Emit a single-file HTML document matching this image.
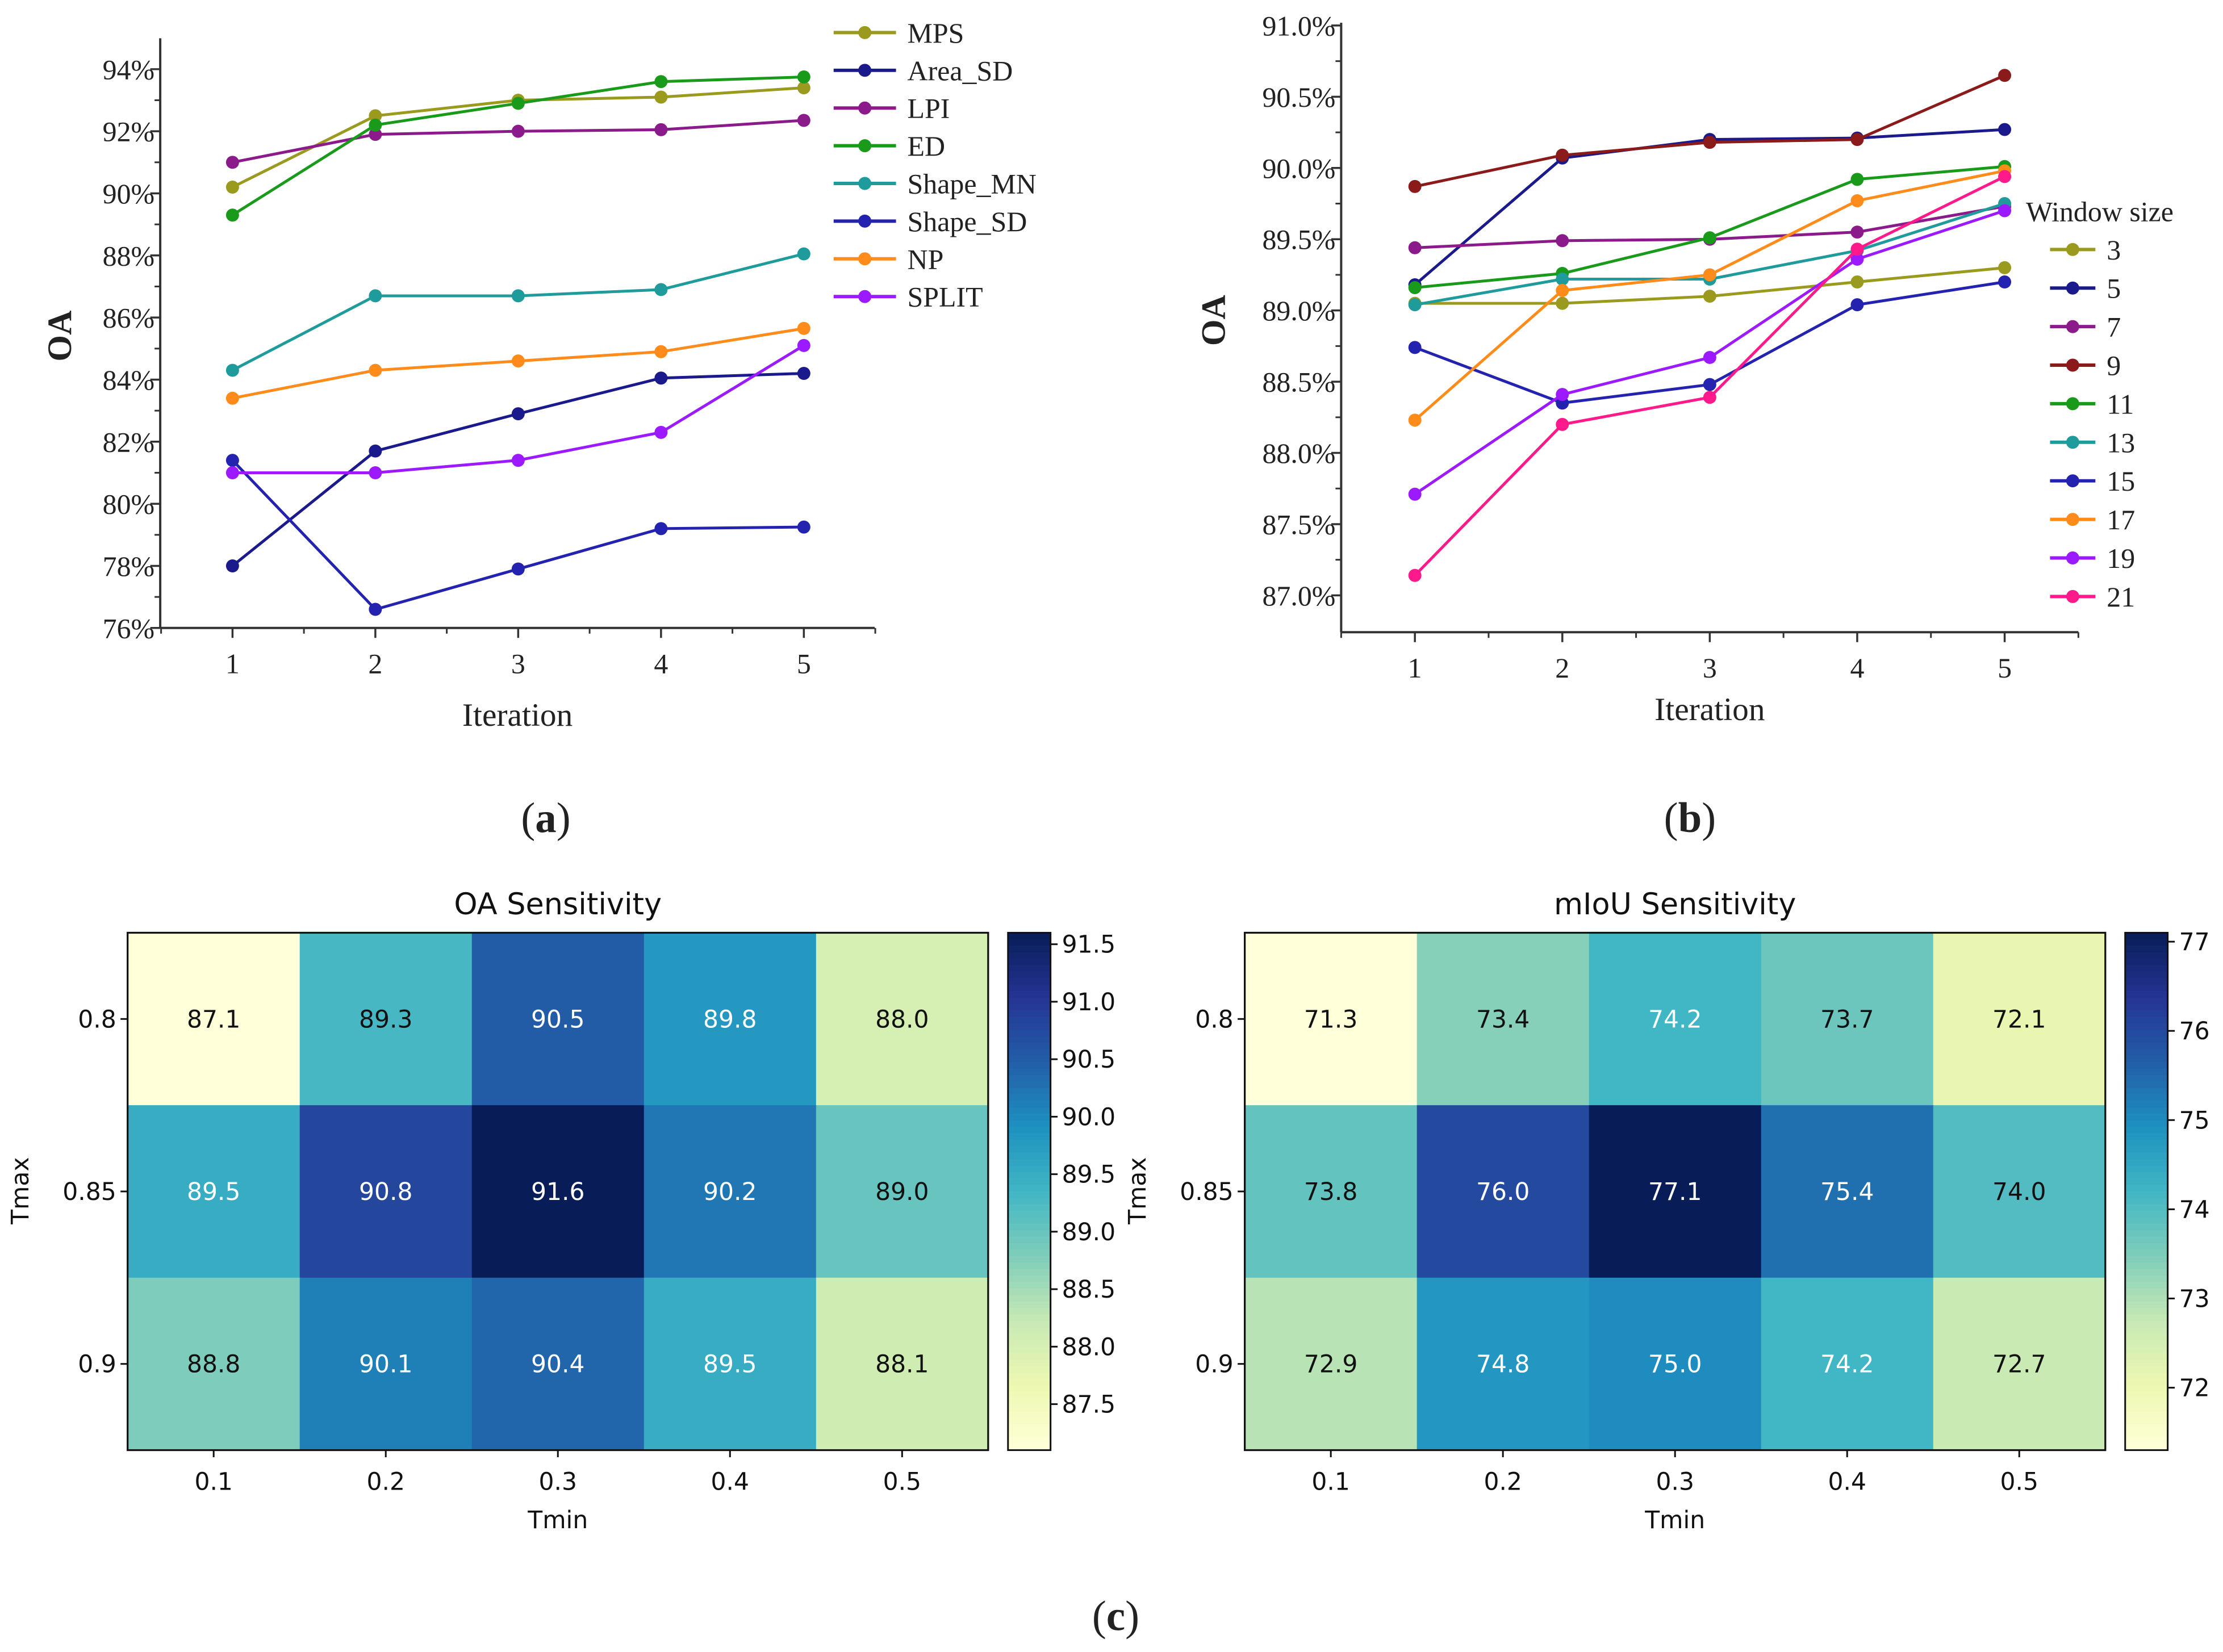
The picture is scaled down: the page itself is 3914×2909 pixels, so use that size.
<!DOCTYPE html>
<html><head><meta charset="utf-8"><style>
html,body{margin:0;padding:0;background:#fff;}
svg{display:block;}
.serif{font-family:"Liberation Serif",serif;fill:#222;}
.sans{font-family:"DejaVu Sans","Liberation Sans",sans-serif;fill:#111;}
</style></head><body>
<svg id="fig" xmlns="http://www.w3.org/2000/svg" width="3914" height="2909" viewBox="0 0 1568 1165.4">
<rect x="0" y="0" width="1568" height="1165.4" fill="#fff"/>
<g id="chartA"></g>
<g id="chartB"></g>
<g id="heatA"></g>
<g id="heatB"></g>
<text class="serif" x="385" y="587" font-size="30" text-anchor="middle">(<tspan font-weight="bold">a</tspan>)</text>
<text class="serif" x="1192" y="587" font-size="30" text-anchor="middle">(<tspan font-weight="bold">b</tspan>)</text>
<text class="serif" x="787" y="1150" font-size="30" text-anchor="middle">(<tspan font-weight="bold">c</tspan>)</text>
</svg>
<script>
// ---------- Chart A data ----------
const aIterations = [1,2,3,4,5];
const aNames = ["MPS","Area_SD","LPI","ED","Shape_MN","Shape_SD","NP","SPLIT"];
const aColors = ["#9a9a1e","#1a1a8c","#8b1a8b","#1a9a1a","#1f9b9b","#2323b0","#ff8c1a","#9b1aff"];
const aMPS = [90.2,92.5,93.0,93.1,93.4];
const aAreaSD = [78.0,81.7,82.9,84.05,84.2];
const aLPI = [91.0,91.9,92.0,92.05,92.35];
const aED = [89.3,92.2,92.9,93.6,93.75];
const aShapeMN = [84.3,86.7,86.7,86.9,88.05];
const aShapeSD = [81.4,76.6,77.9,79.2,79.25];
const aNP = [83.4,84.3,84.6,84.9,85.65];
const aSPLIT = [81.0,81.0,81.4,82.3,85.1];
const aYTicks = [76,78,80,82,84,86,88,90,92,94];
// ---------- Chart B data ----------
const bNames = ["3","5","7","9","11","13","15","17","19","21"];
const bColors = ["#9a9a1e","#1a1a8c","#8b1a8b","#8b1a1a","#1a9a1a","#1f9b9b","#2323b0","#ff8c1a","#9b1aff","#ff1a8c"];
const b3 = [89.05,89.05,89.1,89.2,89.3];
const b5 = [89.18,90.07,90.2,90.21,90.27];
const b7 = [89.44,89.49,89.5,89.55,89.73];
const b9 = [89.87,90.09,90.18,90.2,90.65];
const b11 = [89.16,89.26,89.51,89.92,90.01];
const b13 = [89.04,89.22,89.22,89.42,89.75];
const b15 = [88.74,88.35,88.48,89.04,89.2];
const b17 = [88.23,89.14,89.25,89.77,89.98];
const b19 = [87.71,88.41,88.67,89.36,89.7];
const b21 = [87.14,88.2,88.39,89.43,89.94];
const bYTicks = [87.0,87.5,88.0,88.5,89.0,89.5,90.0,90.5,91.0];
// ---------- Heatmap data ----------
const hTmin = ["0.1","0.2","0.3","0.4","0.5"];
const hTmax = ["0.8","0.85","0.9"];
const hOA = [[87.1,89.3,90.5,89.8,88.0],[89.5,90.8,91.6,90.2,89.0],[88.8,90.1,90.4,89.5,88.1]];
const hMIoU = [[71.3,73.4,74.2,73.7,72.1],[73.8,76.0,77.1,75.4,74.0],[72.9,74.8,75.0,74.2,72.7]];
const hOATicks = [87.5,88.0,88.5,89.0,89.5,90.0,90.5,91.0,91.5];
const hMIoUTicks = [72,73,74,75,76,77];

const NS="http://www.w3.org/2000/svg";
function mk(parent,tag,attrs,text){const e=document.createElementNS(NS,tag);for(const k in attrs)e.setAttribute(k,attrs[k]);if(text!==undefined)e.textContent=text;parent.appendChild(e);return e;}

function lineChart(g,cfg){
  const xs=v=>cfg.x0+(v-1)*cfg.dx;
  const ys=v=>cfg.y0-(v-cfg.ymin)*cfg.py;
  // axes
  let e=mk(g,'line',{x1:cfg.axL,y1:cfg.axB,x2:cfg.axL,y2:cfg.axT,stroke:'#333','stroke-width':1.6});
  
  e=mk(g,'line',{x1:cfg.axL,y1:cfg.axB,x2:cfg.axR,y2:cfg.axB,stroke:'#333','stroke-width':1.6});
  
  cfg.yticks.forEach((t,i)=>{
    const y=ys(t);
    mk(g,'line',{x1:cfg.axL-7,y1:y,x2:cfg.axL,y2:y,stroke:'#333','stroke-width':1.4});
    const lbl=mk(g,'text',{x:cfg.axL-4,y:y+7,'font-size':20,'text-anchor':'end',class:'serif'},cfg.fmt(t));
    
    if(i<cfg.yticks.length-1){const ym=ys((t+cfg.yticks[i+1])/2);mk(g,'line',{x1:cfg.axL-4,y1:ym,x2:cfg.axL,y2:ym,stroke:'#333','stroke-width':1.2});}
  });
  const ym=ys(cfg.yticks[cfg.yticks.length-1]+(cfg.yticks[1]-cfg.yticks[0])/2);
  if(ym>cfg.axT) mk(g,'line',{x1:cfg.axL-4,y1:ym,x2:cfg.axL,y2:ym,stroke:'#333','stroke-width':1.2});
  aIterations.forEach(v=>{
    const x=xs(v);
    mk(g,'line',{x1:x,y1:cfg.axB,x2:x,y2:cfg.axB+7,stroke:'#333','stroke-width':1.4});
    mk(g,'line',{x1:x+cfg.dx/2,y1:cfg.axB,x2:x+cfg.dx/2,y2:cfg.axB+4,stroke:'#333','stroke-width':1.2});
    const lbl=mk(g,'text',{x:x,y:cfg.axB+32,'font-size':20,'text-anchor':'middle',class:'serif'},String(v));
    
  });
  mk(g,'line',{x1:xs(1)-cfg.dx/2,y1:cfg.axB,x2:xs(1)-cfg.dx/2,y2:cfg.axB+4,stroke:'#333','stroke-width':1.2});
  e=mk(g,'text',{x:cfg.xtX,y:cfg.xtY,'font-size':23,'text-anchor':'middle',class:'serif'},'Iteration');
  
  e=mk(g,'text',{x:cfg.ytX,y:cfg.ytY,'font-size':24,'font-weight':'bold','text-anchor':'middle',class:'serif',transform:`rotate(-90 ${cfg.ytX} ${cfg.ytY})`},'OA');
  
  if(cfg.legTitle){e=mk(g,'text',{x:cfg.legTitle[0],y:cfg.legTitle[1],'font-size':20,class:'serif'},cfg.legTitleText);}
  cfg.series.forEach((s,i)=>{
    const sg=mk(g,'g',{});
    
    
    const pts=s.map((v,j)=>xs(aIterations[j]).toFixed(1)+','+ys(v).toFixed(1)).join(' ');
    mk(sg,'polyline',{points:pts,fill:'none',stroke:cfg.colors[i],'stroke-width':2});
    s.forEach((v,j)=>{const c=mk(sg,'circle',{cx:xs(aIterations[j]),cy:ys(v),r:4.6,fill:cfg.colors[i]});
      });
    const ly=cfg.legY0+i*cfg.legDy;
    const lg=mk(g,'g',{});
    
    mk(lg,'line',{x1:cfg.legX,y1:ly,x2:cfg.legX+cfg.legW,y2:ly,stroke:cfg.colors[i],'stroke-width':2.4});
    mk(lg,'circle',{cx:cfg.legX+cfg.legW/2,cy:ly,r:4.6,fill:cfg.colors[i]});
    mk(lg,'text',{x:cfg.legX+cfg.legW+8,y:ly+7,'font-size':20,class:'serif'},cfg.names[i]);
  });
}
lineChart(document.getElementById('chartA'),{x0:164,dx:100.75,y0:443,ymin:76,py:21.9,axL:113,axR:617,axT:27,axB:443,
  yticks:aYTicks,fmt:t=>t+'%',xtX:365,xtY:512,ytX:50,ytY:237,
  series:[aMPS,aAreaSD,aLPI,aED,aShapeMN,aShapeSD,aNP,aSPLIT],names:aNames,colors:aColors,legX:588,legW:44,legY0:23,legDy:26.6});
lineChart(document.getElementById('chartB'),{x0:998,dx:104,y0:420,ymin:87,py:100.5,axL:946,axR:1466,axT:16,axB:446,
  yticks:bYTicks,fmt:t=>t.toFixed(1)+'%',xtX:1206,xtY:508,ytX:864,ytY:226,
  series:[b3,b5,b7,b9,b11,b13,b15,b17,b19,b21],names:bNames,colors:bColors,legX:1446,legW:32,legY0:176,legDy:27.2,
  legTitle:[1429,156],legTitleText:'Window size'});

// ---- YlGnBu colormap ----
const cmap=["#ffffd9","#edf8b1","#c7e9b4","#7fcdbb","#41b6c4","#1d91c0","#225ea8","#253494","#081d58"];
function hex(h){return [1,3,5].map(i=>parseInt(h.substr(i,2),16));}
function color(t){t=Math.max(0,Math.min(1,t));const p=t*(cmap.length-1);const i=Math.min(Math.floor(p),cmap.length-2);const f=p-i;
  const a=hex(cmap[i]),b=hex(cmap[i+1]);return 'rgb('+a.map((v,k)=>Math.round(v+(b[k]-v)*f)).join(',')+')';}

function heat(g,cfg){
  const L=cfg.L,T=658,W=607,H=365;const cw=W/5,ch=H/3;
  const vmin=Math.min(...cfg.data.flat()),vmax=Math.max(...cfg.data.flat());
  const norm=v=>(v-vmin)/(vmax-vmin);
  cfg.data.forEach((row,r)=>row.forEach((v,c)=>{
    const cell=mk(g,'rect',{x:L+c*cw,y:T+r*ch,width:cw+0.5,height:ch+0.5,fill:color(norm(v))});
    
    const t=mk(g,'text',{x:L+c*cw+cw/2,y:T+r*ch+ch/2+6,'font-size':17,'text-anchor':'middle',class:'sans',style:'fill:'+(norm(v)>0.495?'#fff':'#111')},v.toFixed(1));
    
  }));
  mk(g,'rect',{x:L,y:T,width:W,height:H,fill:'none',stroke:'#111','stroke-width':1.3});
  let e=mk(g,'text',{x:L+W/2,y:645,'font-size':21,'text-anchor':'middle',class:'sans'},cfg.title);
  
  hTmax.forEach((lab,r)=>{const y=T+r*ch+ch/2;mk(g,'line',{x1:L-5,y1:y,x2:L,y2:y,stroke:'#111','stroke-width':1.2});
    const t=mk(g,'text',{x:L-8,y:y+6,'font-size':17,'text-anchor':'end',class:'sans'},lab);});
  hTmin.forEach((lab,c)=>{const x=L+c*cw+cw/2;mk(g,'line',{x1:x,y1:T+H,x2:x,y2:T+H+5,stroke:'#111','stroke-width':1.2});
    const t=mk(g,'text',{x:x,y:T+H+28,'font-size':17,'text-anchor':'middle',class:'sans'},lab);});
  e=mk(g,'text',{x:L+W/2,y:1078,'font-size':17,'text-anchor':'middle',class:'sans'},'Tmin');
  
  const yx=cfg.L-70;
  e=mk(g,'text',{x:yx,y:840,'font-size':17,'text-anchor':'middle',class:'sans',transform:`rotate(-90 ${yx} 840)`},'Tmax');
  
  // colorbar
  const cx=L+W+14,cwid=30;
  const cb=mk(g,'g',{});
  const N=80;for(let i=0;i<N;i++){mk(cb,'rect',{x:cx,y:T+i*H/N,width:cwid,height:H/N+0.6,fill:color(1-(i+0.5)/N)});}
  mk(cb,'rect',{x:cx,y:T,width:cwid,height:H,fill:'none',stroke:'#111','stroke-width':1.2});
  cfg.ticks.forEach(t=>{const y=T+H-(t-vmin)/(vmax-vmin)*H;
    mk(cb,'line',{x1:cx+cwid,y1:y,x2:cx+cwid+5,y2:y,stroke:'#111','stroke-width':1.2});
    const tl=mk(cb,'text',{x:cx+cwid+8,y:y+6,'font-size':17,class:'sans'},cfg.tfmt(t));});
}
heat(document.getElementById('heatA'),{L:90,data:hOA,title:'OA Sensitivity',ticks:hOATicks,tfmt:t=>t.toFixed(1)});
heat(document.getElementById('heatB'),{L:878,data:hMIoU,title:'mIoU Sensitivity',ticks:hMIoUTicks,tfmt:t=>String(t)});
</script>
</body></html>
